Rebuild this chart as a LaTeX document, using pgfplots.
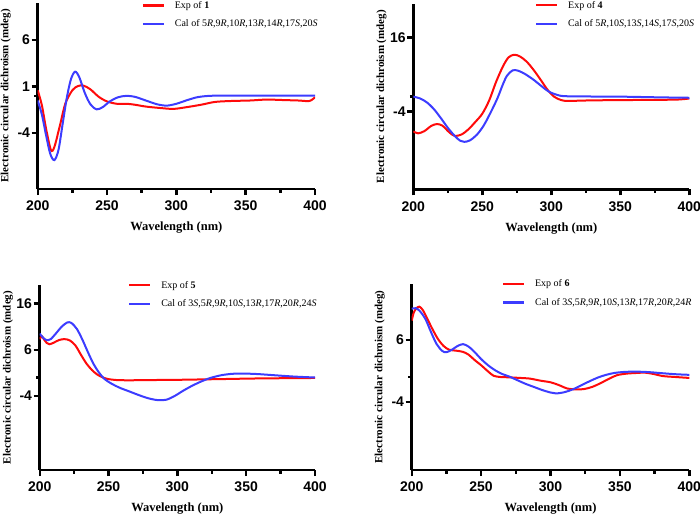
\documentclass[border=0pt]{standalone}
\usepackage{fontspec}
\setmainfont{Liberation Serif}
\setsansfont{Liberation Sans}
\usepackage{pgfplots}
\pgfplotsset{compat=1.18}
\definecolor{cdred}{HTML}{FF0A0A}
\definecolor{cdblue}{HTML}{3C3CFF}

\newcommand{\tickfont}{\fontsize{14}{15}\selectfont\sffamily\bfseries}

\pgfplotsset{
  cdpanel/.style={
    scale only axis,
    xmin=200, xmax=400,
    axis x line*=bottom, axis y line*=left,
    axis line style={-, line width=2.7pt},
    tick align=outside,
    major tick length=6pt,
    minor tick length=3.5pt,
    tick style={line width=2.4pt, black},
    xtick={200,250,...,400},
    xticklabels={200,250,300,350,400},
    minor xtick={225,275,...,375},
    xticklabel style={font=\tickfont, inner sep=1pt, yshift=-5pt},
    yticklabel style={font=\tickfont, inner sep=1.5pt},
    xlabel={Wavelength (nm)},
    xlabel style={font=\fontsize{12.5}{14}\selectfont\bfseries,
      at={(axis description cs:0.5,0)}, anchor=center, yshift=-39pt},
    ylabel={Electronic circular dichroism (mdeg)},
    ylabel style={font=\fontsize{11}{12}\selectfont\bfseries, inner sep=0pt,
      at={(axis description cs:-0.115,0.5)}, anchor=center},
    legend style={draw=none, fill=none, inner sep=0pt, outer sep=0pt,
      anchor=north west, font=\fontsize{10}{12}\selectfont,
      row sep=10pt, column sep=10pt, nodes={inner sep=0pt}},
    legend cell align=left,
    legend image code/.code={\draw[line width=2.2pt] (0pt,0pt) -- (21pt,0pt);},
  },
  exp/.style={cdred, line width=2pt, smooth},
  cal/.style={cdblue, line width=2pt, smooth},
}

\begin{document}
\begin{tikzpicture}

% ---- compound 1 ----
\begin{axis}[cdpanel,
  at={(37.7pt,326pt)}, anchor=south west,
  width=277.3pt, height=186.3pt,
  ymin=-10, ymax=10,
  ytick={-4,1,6}, yticklabels={-4,1,6}, minor ytick={0},
  legend style={at={(axis description cs:0.375,1.008)}},
]
\addplot[exp] coordinates {
  (200,0.6) (203,-1.0) (206,-3.5) (209.5,-5.8) (212,-5.5) (216,-3.2)
  (220,-0.8) (225,0.6) (229,1.05) (233,1.1) (238,0.7) (244,-0.1)
  (250,-0.6) (257,-0.85) (264,-0.85) (270,-0.95) (278,-1.15) (288,-1.3)
  (298,-1.4) (308,-1.2) (318,-0.95) (328,-0.65) (340,-0.55) (353,-0.5)
  (365,-0.4) (377,-0.45) (388,-0.5) (396,-0.55) (400,-0.15)
};
\addlegendentry{Exp of \textbf{1}}
\addplot[cal] coordinates {
  (200,-0.5) (203,-2.0) (206,-4.2) (209,-6.2) (212,-6.9) (215,-5.8)
  (218,-3.0) (221,-0.2) (224,1.8) (227,2.6) (230,2.0) (234,0.3)
  (238,-0.9) (242.5,-1.45) (247,-1.2) (252,-0.6) (258,-0.15) (264,0.0)
  (270,-0.1) (278,-0.5) (286,-0.9) (293,-1.05) (300,-0.85) (308,-0.45)
  (315,-0.15) (322,-0.02) (330,0.02) (360,0.02) (400,0.02)
};
\addlegendentry{Cal of 5\textit{R},9\textit{R},10\textit{R},13\textit{R},14\textit{R},17\textit{S},20\textit{S}}
\end{axis}

% ---- compound 4 ----
\begin{axis}[cdpanel,
  at={(413.3pt,325.7pt)}, anchor=south west,
  width=276pt, height=185.3pt,
  ymin=-25, ymax=25,
  ytick={-4,16}, yticklabels={-4,16}, minor ytick={0},
  legend style={at={(axis description cs:0.441,1.016)}},
]
\addplot[exp] coordinates {
  (200,-9.4) (203.5,-9.9) (208,-9.3) (213,-7.9) (217,-7.4) (221,-7.8)
  (226,-9.6) (230,-10.6) (235,-10.2) (240,-8.8) (245,-6.8) (250,-4.6)
  (255,-1.0) (260,4.0) (265,8.2) (269,10.6) (273,11.3) (277,10.9)
  (282,9.5) (287,7.3) (292,4.7) (297,2.0) (302,0.0) (307,-0.9)
  (312,-1.15) (330,-1.0) (360,-0.9) (390,-0.8) (400,-0.5)
};
\addlegendentry{Exp of \textbf{4}}
\addplot[cal] coordinates {
  (200,0.0) (205,-0.5) (210,-1.6) (215,-3.4) (220,-5.8) (225,-8.4)
  (230,-10.6) (234,-11.9) (237,-12.2) (241,-11.8) (246,-10.3) (251,-7.8)
  (256,-4.3) (261,-0.4) (265,3.4) (268,5.7) (272,7.1) (276,7.0)
  (281,6.1) (287,4.6) (293,2.8) (298,1.4) (304,0.5) (312,0.1)
  (350,0.0) (380,-0.2) (400,-0.3)
};
\addlegendentry{Cal of 5\textit{R},10\textit{S},13\textit{S},14\textit{S},17\textit{S},20\textit{S}}
\end{axis}

% ---- compound 5 ----
\begin{axis}[cdpanel,
  at={(39.7pt,45pt)}, anchor=south west,
  width=275.3pt, height=185pt,
  ymin=-20, ymax=20,
  ytick={-4,6,16}, yticklabels={-4,6,16}, minor ytick={0},
  legend style={at={(axis description cs:0.321,1.021)}},
]
\addplot[exp] coordinates {
  (200,8.3) (201.5,8.9) (203,8.3) (205,7.5) (207,7.2) (210,7.5)
  (214,8.1) (218,8.3) (222,8.0) (226,6.9) (230,4.9) (234,3.0)
  (238,1.6) (242,0.6) (246,0.0) (250,-0.35) (256,-0.55) (265,-0.6)
  (280,-0.55) (300,-0.5) (330,-0.35) (360,-0.2) (400,-0.1)
};
\addlegendentry{Exp of \textbf{5}}
\addplot[cal] coordinates {
  (200,9.5) (202.5,8.6) (205,8.1) (208,8.3) (212,9.6) (216,11.0)
  (220,11.9) (223,11.8) (227,10.5) (231,8.2) (235,5.5) (239,3.0)
  (243,1.1) (247,-0.3) (252,-1.3) (258,-2.2) (265,-3.0) (272,-3.8)
  (279,-4.5) (286,-4.9) (292,-4.8) (298,-4.0) (304,-2.9) (310,-1.9)
  (317,-0.9) (324,-0.1) (332,0.5) (340,0.8) (348,0.85) (358,0.75)
  (370,0.5) (385,0.2) (400,0.0)
};
\addlegendentry{Cal of 3\textit{S},5\textit{R},9\textit{R},10\textit{S},13\textit{R},17\textit{R},20\textit{R},24\textit{S}}
\end{axis}

% ---- compound 6 ----
\begin{axis}[cdpanel,
  at={(411.7pt,45pt)}, anchor=south west,
  width=277.6pt, height=186pt,
  ymin=-15, ymax=15,
  ytick={-4,6}, yticklabels={-4,6}, minor ytick={0},
  legend style={at={(axis description cs:0.325,1.023)}},
]
\addplot[exp] coordinates {
  (200,9.1) (201.5,10.4) (203.5,11.1) (205.5,11.35) (208,10.8) (211,9.5)
  (215,7.7) (219,6.1) (223,5.0) (227,4.4) (232,4.25) (237,4.05)
  (241,3.6) (245,2.8) (250,1.9) (255,0.9) (259,0.2) (264,0.0)
  (270,-0.05) (278,-0.15) (285,-0.25) (293,-0.6) (300,-0.85) (306,-1.3)
  (312,-1.85) (318,-2.0) (324,-1.95) (330,-1.6) (336,-1.0) (342,-0.3)
  (348,0.3) (355,0.55) (362,0.65) (368,0.7) (374,0.5) (381,0.15)
  (390,0.0) (400,-0.15)
};
\addlegendentry{Exp of \textbf{6}}
\addplot[cal] coordinates {
  (200,11.0) (203,11.1) (206,10.6) (210,9.3) (214,7.2) (218,5.3)
  (222,4.2) (225,4.0) (229,4.4) (233,5.0) (237,5.3) (241,4.9)
  (245,4.1) (250,2.9) (255,1.9) (260,1.1) (265,0.5) (270,0.1)
  (276,-0.5) (282,-1.1) (288,-1.6) (294,-2.1) (300,-2.5) (304,-2.65)
  (310,-2.45) (316,-2.0) (322,-1.35) (328,-0.7) (334,-0.1) (340,0.35)
  (346,0.65) (352,0.8) (360,0.87) (370,0.8) (380,0.62) (390,0.45)
  (400,0.35)
};
\addlegendentry{Cal of 3\textit{S},5\textit{R},9\textit{R},10\textit{S},13\textit{R},17\textit{R},20\textit{R},24\textit{R}}
\end{axis}

\pgfresetboundingbox
\path[use as bounding box] (0,0) rectangle (700pt,515pt);
\end{tikzpicture}
\end{document}
